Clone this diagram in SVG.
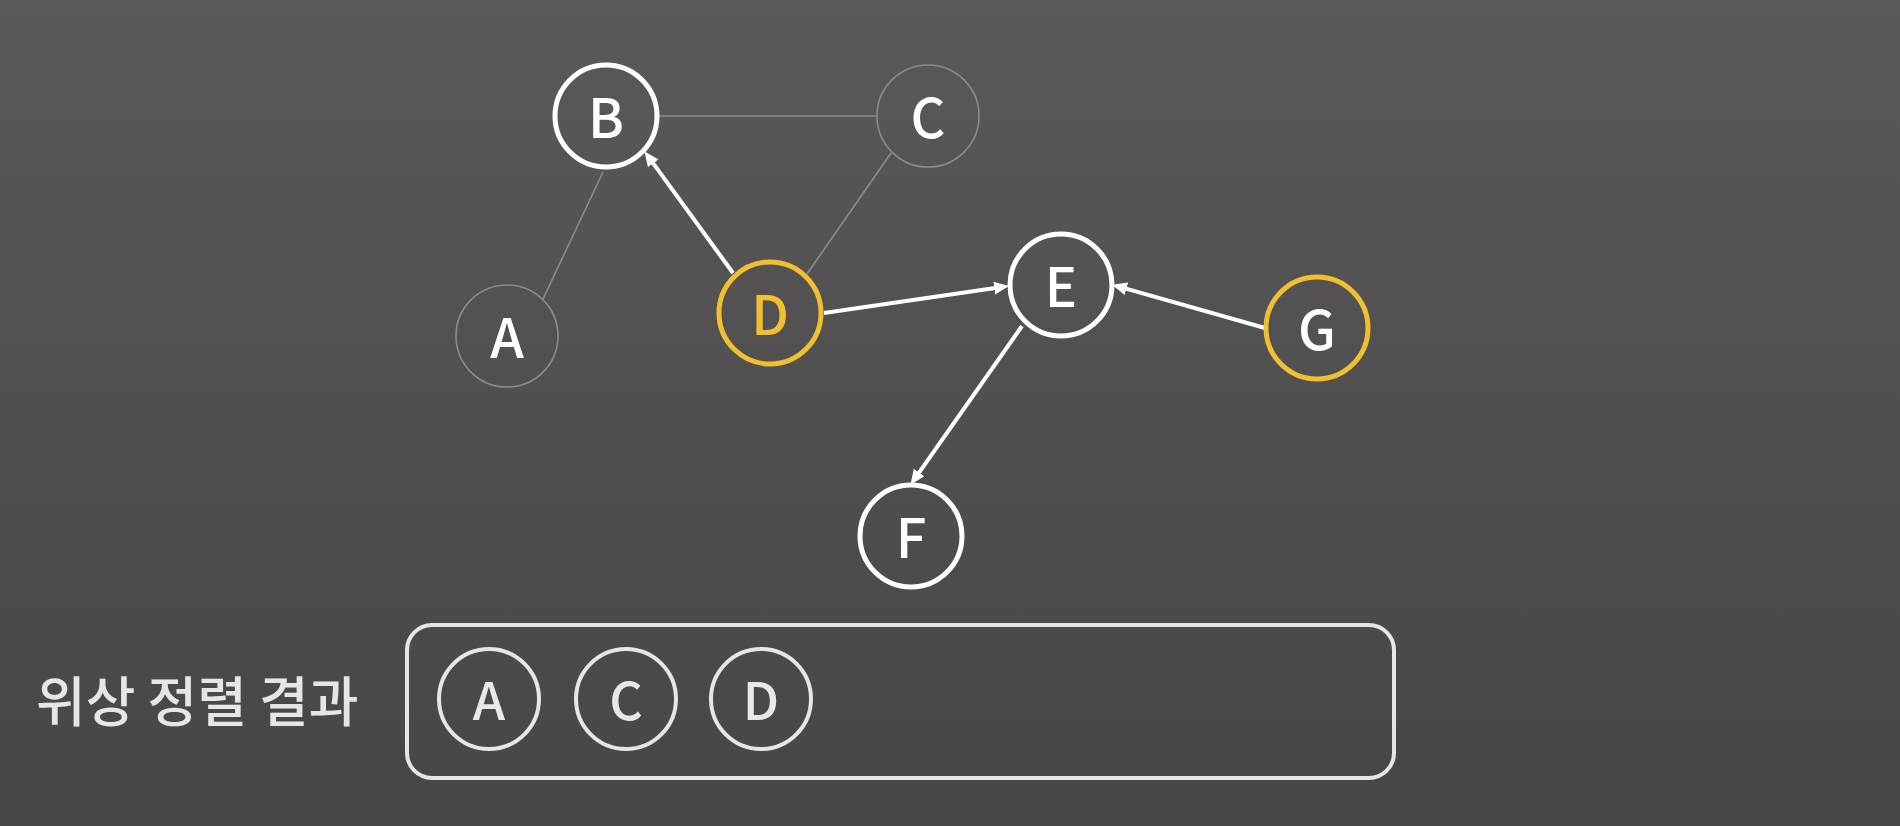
<svg xmlns="http://www.w3.org/2000/svg" width="1900" height="826" viewBox="0 0 1900 826">
  <defs>
    <linearGradient id="bg" x1="0" y1="0" x2="0" y2="1">
      <stop offset="0" stop-color="#5a5859"/>
      <stop offset="1" stop-color="#474647"/>
    </linearGradient>
    <marker id="arrow" markerUnits="userSpaceOnUse" markerWidth="17" markerHeight="14" refX="8" refY="6.5" orient="auto">
      <path d="M0,0 L15,6.5 L0,13 z" fill="#ffffff"/>
    </marker>
    <style>
      .lbl { font-family: "Noto Sans CJK KR", "Noto Sans", sans-serif; text-anchor: middle; dominant-baseline: central; font-size: 54px; font-weight: 500; fill: #ffffff; }
      .dim { fill: none; stroke: #8c8c8c; stroke-width: 1.6; }
      .act { fill: none; stroke: #ffffff; stroke-width: 5; }
      .cur { fill: none; stroke: #f0c030; stroke-width: 5; }
      .res { fill: none; stroke: #e6e6e6; stroke-width: 4; }
      .thin { stroke: #8c8c8c; stroke-width: 1.6; fill: none; }
      .arr { stroke: #ffffff; stroke-width: 4; fill: none; marker-end: url(#arrow); }
      .rlbl { font-family: "Noto Sans CJK KR", "Noto Sans", sans-serif; text-anchor: middle; dominant-baseline: central; font-size: 52px; font-weight: 500; fill: #e8e8e8; }
      .title { font-family: "Noto Sans CJK KR", "Noto Sans", sans-serif; font-size: 54px; font-weight: 500; fill: #e6e6e6; dominant-baseline: central; }
    </style>
  </defs>
  <rect x="0" y="0" width="1900" height="826" fill="url(#bg)"/>

  <g id="connectors">
    <line class="thin" x1="659" y1="116" x2="876" y2="116"/>
    <line class="thin" x1="543" y1="299" x2="603" y2="172"/>
    <line class="thin" x1="891" y1="153" x2="807" y2="274"/>
    <line class="arr" x1="733" y1="273" x2="648.5" y2="156.9"/>
    <line class="arr" x1="824" y1="313" x2="1002.1" y2="286.9"/>
    <line class="arr" x1="1265" y1="328" x2="1118.8" y2="286.6"/>
    <line class="arr" x1="1022" y1="326" x2="914.5" y2="479.1"/>
  </g>

  <g id="node-A">
    <circle class="dim" cx="507" cy="336" r="51"/>
    <text class="lbl" x="507" y="334" font-size="50">A</text>
  </g>
  <g id="node-B">
    <circle class="act" cx="606" cy="116" r="51"/>
    <text class="lbl" x="606" y="114">B</text>
  </g>
  <g id="node-C">
    <circle class="dim" cx="928" cy="116" r="51"/>
    <text class="lbl" x="928" y="114" font-size="50">C</text>
  </g>
  <g id="node-D">
    <circle class="cur" cx="770" cy="313" r="51"/>
    <text class="lbl" x="770" y="311" style="fill:#f0c030">D</text>
  </g>
  <g id="node-E">
    <circle class="act" cx="1061" cy="285" r="51"/>
    <text class="lbl" x="1061" y="283">E</text>
  </g>
  <g id="node-G">
    <circle class="cur" cx="1317" cy="328" r="51"/>
    <text class="lbl" x="1317" y="326">G</text>
  </g>
  <g id="node-F">
    <circle class="act" cx="911" cy="536" r="51"/>
    <text class="lbl" x="911" y="534">F</text>
  </g>

  <g id="result-label">
    <text class="title" x="36" y="698">위상 정렬 결과</text>
  </g>
  <g id="result-box">
    <rect x="407" y="625" width="987" height="153" rx="25" ry="25" fill="none" stroke="#e6e6e6" stroke-width="4"/>
  </g>
  <g id="result-A">
    <circle class="res" cx="489" cy="699" r="50"/>
    <text class="rlbl" x="489" y="697">A</text>
  </g>
  <g id="result-C">
    <circle class="res" cx="626" cy="699" r="50"/>
    <text class="rlbl" x="626" y="697">C</text>
  </g>
  <g id="result-D">
    <circle class="res" cx="761" cy="699" r="50"/>
    <text class="rlbl" x="761" y="697">D</text>
  </g>
</svg>
